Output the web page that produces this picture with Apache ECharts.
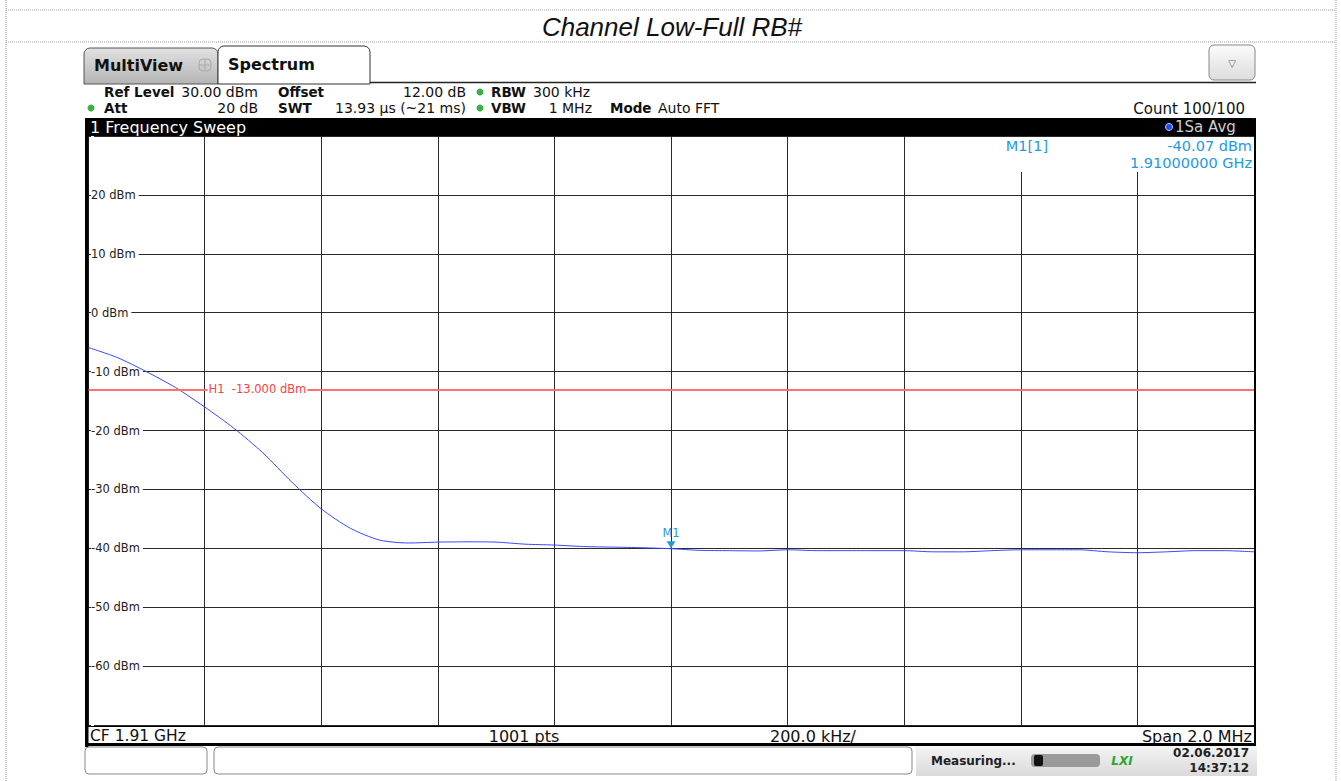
<!DOCTYPE html>
<html>
<head>
<meta charset="utf-8">
<script src="https://cdn.jsdelivr.net/npm/echarts@6/dist/echarts.min.js"></script>
<style>
html, body { margin: 0; padding: 0; background: #fff; }
#cn { width: 1341px; height: 781px; }
</style>
</head>
<body>
<div id="cn"></div>
<script>
'use strict';

// trace: frequency (MHz) / level (dBm)
const arrFreq = [
    1909.00, 1909.05, 1909.10, 1909.15, 1909.20, 1909.25, 1909.30, 1909.35, 1909.40, 1909.45,
    1909.50, 1909.55, 1909.60, 1909.65, 1909.70, 1909.75, 1909.80, 1909.85, 1909.90, 1909.95,
    1910.00, 1910.05, 1910.10, 1910.15, 1910.20, 1910.25, 1910.30, 1910.35, 1910.40, 1910.45,
    1910.50, 1910.55, 1910.60, 1910.65, 1910.70, 1910.75, 1910.80, 1910.85, 1910.90, 1910.95,
    1911.00
];
const arrLevel = [
    -5.9, -7.6, -10.0, -12.7, -16.0, -19.6, -23.8, -28.8, -33.3, -36.6,
    -38.6, -39.1, -38.95, -38.9, -38.95, -39.3, -39.45, -39.7, -39.8, -39.9,
    -40.07, -40.35, -40.4, -40.45, -40.25, -40.4, -40.4, -40.4, -40.4, -40.6,
    -40.6, -40.4, -40.25, -40.25, -40.25, -40.6, -40.75, -40.6, -40.4, -40.4,
    -40.6
];
const yTicks = [20, 10, 0, -10, -20, -30, -40, -50, -60];
const h1Level = -13;
const m1 = [1910.00, -40.07];

const FONT = 'DejaVu Sans';
const GREEN = '#3cb043';
const MARKER_BLUE = '#1f9ae0';

const txt = (text, x, y, opt = {}) => ({
    type: 'text',
    z: 100,
    style: {
        text: text,
        x: x,
        y: y,
        fill: opt.fill || '#111',
        font: `${opt.italic ? 'italic ' : ''}${opt.bold ? 'bold ' : ''}${opt.size || 14}px ${opt.family || FONT}`,
        textAlign: opt.align || 'left',
        textVerticalAlign: 'middle',
        backgroundColor: opt.bg,
        padding: opt.pad
    }
});
const rect = (x, y, w, h, style, r = 0) => ({
    type: 'rect', z: 90,
    shape: { x: x, y: y, width: w, height: h, r: r },
    style: style
});
const line = (x1, y1, x2, y2, style) => ({
    type: 'line', z: 95,
    shape: { x1: x1, y1: y1, x2: x2, y2: y2 },
    style: style
});
const dot = (cx, cy, fill, stroke) => ({
    type: 'circle', z: 100,
    shape: { cx: cx, cy: cy, r: 3.5 },
    style: { fill: fill, stroke: stroke || null, lineWidth: 1 }
});

const grayGrad = new echarts.graphic.LinearGradient(0, 0, 0, 1, [
    { offset: 0, color: '#e2e2e2' }, { offset: 1, color: '#b4b4b4' }
]);
const btnGrad = new echarts.graphic.LinearGradient(0, 0, 0, 1, [
    { offset: 0, color: '#fbfbfb' }, { offset: 1, color: '#dcdcdc' }
]);
const statusGrad = new echarts.graphic.LinearGradient(0, 0, 0, 1, [
    { offset: 0, color: '#f4f4f4' }, { offset: 1, color: '#dadada' }
]);

const dotted = { stroke: '#999', lineWidth: 1, lineDash: [1, 1] };

const chrome = [
    // page frame + title box
    line(6, 0, 6, 781, dotted),
    line(1336, 0, 1336, 781, dotted),
    line(6, 10, 1336, 10, dotted),
    line(6, 42, 1336, 42, dotted),
    txt('Channel Low-Full RB#', 672, 27, { size: 26, italic: true, family: 'Liberation Sans', align: 'center' }),

    // tabs
    rect(84, 48, 134, 36, { fill: grayGrad, stroke: '#555', lineWidth: 1 }, [6, 6, 0, 0]),
    txt('MultiView', 94, 65, { size: 16, bold: true }),
    rect(199, 59, 12, 12, { fill: 'none', stroke: '#aaa', lineWidth: 1 }, 4),
    line(205, 59, 205, 71, { stroke: '#aaa', lineWidth: 1 }),
    line(199, 65, 211, 65, { stroke: '#aaa', lineWidth: 1 }),
    rect(218, 46, 152, 38, { fill: '#fff', stroke: '#333', lineWidth: 1 }, [6, 6, 0, 0]),
    txt('Spectrum', 228, 64, { size: 16, bold: true }),
    line(370, 82.5, 1256, 82.5, { stroke: '#222', lineWidth: 1.5 }),
    rect(1209, 45, 46, 35, { fill: btnGrad, stroke: '#888', lineWidth: 1 }, 5),
    txt('\u25BD', 1232, 63, { size: 10, fill: '#666', align: 'center' }),

    // settings rows
    txt('Ref Level', 104, 92, { bold: true, size: 13.5 }),
    txt('30.00 dBm', 258, 92, { align: 'right' }),
    txt('Offset', 278, 92, { bold: true, size: 13.5 }),
    txt('12.00 dB', 466, 92, { align: 'right' }),
    dot(480, 92, GREEN),
    txt('RBW', 491, 92, { bold: true, size: 13.5 }),
    txt('300 kHz', 533, 92),
    dot(91, 108, GREEN),
    txt('Att', 104, 108, { bold: true, size: 13.5 }),
    txt('20 dB', 258, 108, { align: 'right' }),
    txt('SWT', 278, 108, { bold: true, size: 13.5 }),
    txt('13.93 \u00B5s (~21 ms)', 466, 108, { align: 'right' }),
    dot(480, 108, GREEN),
    txt('VBW', 491, 108, { bold: true, size: 13.5 }),
    txt('1 MHz', 592, 108, { align: 'right' }),
    txt('Mode', 610, 108, { bold: true, size: 13.5 }),
    txt('Auto FFT', 658, 108),
    txt('Count 100/100', 1245, 109, { align: 'right', size: 15 }),

    // window header bar
    rect(85, 118, 1171, 18, { fill: '#000' }, [4, 4, 0, 0]),
    txt('1 Frequency Sweep', 90, 127, { size: 16, fill: '#fff' }),
    dot(1169, 127, '#1f4cff', '#c0c8ff'),
    txt('1Sa Avg', 1175, 127, { size: 15, fill: '#cfcfcf' }),

    // marker table
    rect(930, 137, 323, 35, { fill: '#fff' }),
    txt('M1[1]', 1027, 146, { size: 14.5, fill: MARKER_BLUE, align: 'center' }),
    txt('-40.07 dBm', 1252, 146, { size: 14.5, fill: MARKER_BLUE, align: 'right' }),
    txt('1.91000000 GHz', 1252, 163, { size: 14.5, fill: MARKER_BLUE, align: 'right' }),

    // frame of diagram
    rect(85, 118, 3.5, 629, { fill: '#000' }),
    rect(1254, 118, 2, 629, { fill: '#000' }),
    line(86, 726.5, 1255, 726.5, { stroke: '#000', lineWidth: 1 }),
    rect(85, 743, 1171, 3, { fill: '#000' }),
    txt('CF 1.91 GHz', 90, 736, { size: 15.5 }),
    txt('1001 pts', 524, 736, { size: 16, align: 'center' }),
    txt('200.0 kHz/', 813, 736, { size: 16, align: 'center' }),
    txt('Span 2.0 MHz', 1252, 736, { size: 16, align: 'right' }),

    // status bar
    rect(85, 747, 122, 27, { fill: '#fff', stroke: '#888', lineWidth: 1 }, 4),
    rect(214, 747, 698, 27, { fill: '#fff', stroke: '#888', lineWidth: 1 }, 4),
    rect(916, 746, 341, 30, { fill: statusGrad }),
    txt('Measuring...', 931, 761, { size: 12, bold: true, fill: '#222' }),
    rect(1031, 754, 69, 13, { fill: '#9a9a9a' }, 4),
    rect(1034, 755, 9, 11, { fill: '#111' }, 2),
    txt('LXI', 1122, 761, { size: 12, bold: true, italic: true, fill: '#2da52d', align: 'center' }),
    txt('02.06.2017', 1249, 753, { size: 12, bold: true, fill: '#222', align: 'right' }),
    txt('14:37:12', 1249, 768, { size: 12, bold: true, fill: '#222', align: 'right' })
];

const optionChart = {
    animation: false,
    backgroundColor: '#fff',
    grid: {
        left: 88,
        right: 87,
        top: 136,
        bottom: 56
    },
    xAxis: {
        type: 'value',
        min: 1909,
        max: 1911,
        interval: 0.2,
        axisLine: { show: false },
        axisTick: { show: false },
        axisLabel: { show: false },
        splitLine: {
            show: true,
            lineStyle: { color: '#2a2a2a', width: 1 }
        }
    },
    yAxis: {
        type: 'value',
        min: -70,
        max: 30,
        interval: 10,
        axisLine: { show: false },
        axisTick: { show: false },
        splitLine: {
            show: true,
            lineStyle: { color: '#2a2a2a', width: 1 }
        },
        axisLabel: {
            inside: true,
            margin: 3,
            color: '#222',
            fontSize: 11.5,
            fontFamily: FONT,
            backgroundColor: '#fff',
            padding: [1, 3, 1, 0],
            formatter: (v) => yTicks.includes(v) ? `${v} dBm` : ''
        }
    },
    series: [{
        name: 'Trace 1',
        type: 'line',
        data: arrFreq.map((f, i) => [f, arrLevel[i]]),
        showSymbol: false,
        symbol: 'none',
        smooth: 0.25,
        z: 3,
        lineStyle: { color: '#3448ff', width: 1 },
        markLine: {
            silent: true,
            symbol: 'none',
            label: { show: false },
            lineStyle: { color: '#ff7070', width: 2, type: 'solid', opacity: 1 },
            data: [{ yAxis: h1Level }]
        },
        markPoint: {
            symbol: 'triangle',
            symbolRotate: 180,
            symbolSize: [9, 7],
            symbolOffset: [0, -4],
            itemStyle: { color: MARKER_BLUE },
            label: {
                show: true,
                position: 'top',
                distance: 2,
                formatter: 'M1',
                color: MARKER_BLUE,
                fontSize: 11.5,
                fontFamily: FONT
            },
            data: [{ coord: m1 }]
        }
    }],
    graphic: chrome
};

//main
{
    const echartsSpec = echarts.init(document.getElementById('cn'), null, { renderer: 'svg' });
    echartsSpec.setOption(optionChart);

    // H1 label sits on the limit line, just right of the first division
    const p = echartsSpec.convertToPixel({ gridIndex: 0 }, [1909.2, h1Level]);
    echartsSpec.setOption({
        graphic: chrome.concat([
            txt(`H1  ${h1Level.toFixed(3)} dBm`, p[0] + 3, p[1], { size: 11.5, fill: '#ff4040', bg: '#fff', pad: [0, 1] })
        ])
    });
}
</script>
</body>
</html>
